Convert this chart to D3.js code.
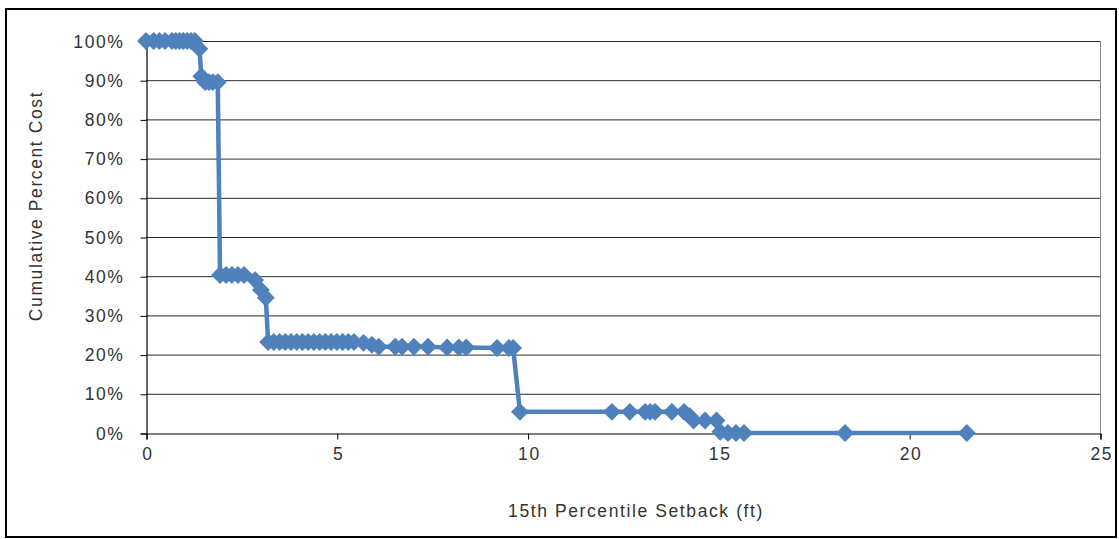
<!DOCTYPE html>
<html><head><meta charset="utf-8">
<script src="https://cdn.jsdelivr.net/npm/d3@7"></script>
<style>
html,body{margin:0;padding:0;background:#fff;}
text{font-family:"Liberation Sans",Arial,sans-serif;}
</style></head>
<body>
<svg id="chart" width="1119" height="539"></svg>
<script>
const setbackFt = [0, 0.2, 0.35, 0.5, 0.68, 0.78, 0.88, 0.98, 1.08, 1.18, 1.28, 1.4, 1.45, 1.55, 1.65, 1.75, 1.88,
  1.94, 2.1, 2.25, 2.41, 2.57, 2.86, 3.01, 3.14,
  3.2, 3.35, 3.5, 3.65, 3.8, 3.95, 4.1, 4.25, 4.4, 4.55, 4.7, 4.85, 5.0, 5.15, 5.3, 5.45, 5.7,
  5.92, 6.1, 6.53, 6.71, 7.02, 7.39, 7.89, 8.2, 8.39, 9.2, 9.51, 9.62,
  9.8, 12.21, 12.68, 13.08, 13.21, 13.34, 13.78, 14.1, 14.25, 14.35, 14.65, 14.95,
  15.05, 15.25, 15.46, 15.67, 18.32, 21.51];
const cumPercentCost = [100, 100, 100, 100, 100, 100, 100, 100, 100, 100, 100, 98, 91, 89.5, 89.5, 89.5, 89.5,
  40.3, 40.3, 40.3, 40.3, 40.3, 39, 36.5, 34.5,
  23.2, 23.2, 23.2, 23.2, 23.2, 23.2, 23.2, 23.2, 23.2, 23.2, 23.2, 23.2, 23.2, 23.2, 23.2, 23.2, 23,
  22.5, 22, 22, 22, 22, 22, 21.8, 21.8, 21.8, 21.7, 21.7, 21.7,
  5.4, 5.4, 5.4, 5.4, 5.4, 5.4, 5.4, 5.4, 4.3, 3.2, 3.2, 3.2,
  0.3, 0, 0, 0, 0, 0];
const xTicks = [0, 5, 10, 15, 20, 25];
const yTicks = [0, 10, 20, 30, 40, 50, 60, 70, 80, 90, 100];
const xTitle = "15th Percentile Setback (ft)";
const yTitle = "Cumulative Percent Cost";

const svg = d3.select("#chart");
const L = 146, R = 1100, T = 41, B = 433;
const x = d3.scaleLinear().domain([0, 25]).range([L, R]);
const y = d3.scaleLinear().domain([0, 100]).range([B, T]);
const textColor = "#333";
const fontSize = "17.5px";
const ls = "1.6px";

// outer frame
svg.append("rect").attr("x", 6).attr("y", 9).attr("width", 1110).attr("height", 528)
  .attr("fill", "none").attr("stroke", "#000").attr("stroke-width", 2);

// gridlines
svg.append("g").selectAll("line").data(yTicks.filter(d => d > 0)).join("line")
  .attr("x1", L).attr("x2", R).attr("y1", d => y(d) + 0.5).attr("y2", d => y(d) + 0.5)
  .attr("stroke", "#2a2a2a").attr("stroke-width", 1);
// plot right border
svg.append("line").attr("x1", R + 0.5).attr("x2", R + 0.5).attr("y1", T).attr("y2", B)
  .attr("stroke", "#888").attr("stroke-width", 1);

// y axis
const yAxis = svg.append("g").attr("transform", `translate(${L + 0.5},0.5)`)
  .call(d3.axisLeft(y).tickValues(yTicks).tickFormat(d => d + "%").tickSize(6).tickPadding(16));
// x axis
const xAxis = svg.append("g").attr("transform", `translate(0.5,${B + 0.5})`)
  .call(d3.axisBottom(x).tickValues(xTicks).tickSize(6).tickPadding(8));
[yAxis, xAxis].forEach(g => {
  g.select(".domain").attr("stroke", "#000").attr("stroke-width", 1.2);
  g.selectAll(".tick line").attr("stroke", "#000");
  g.selectAll("text").attr("font-size", fontSize).attr("fill", textColor)
    .attr("font-family", "Liberation Sans, Arial, sans-serif").attr("letter-spacing", ls);
});
xAxis.selectAll("text").attr("dx", "0.8px");

// series line
const pts = setbackFt.map((v, i) => [v, cumPercentCost[i]]);
svg.append("path").datum(pts)
  .attr("fill", "none").attr("stroke", "#4F81BD").attr("stroke-width", 4.5).attr("stroke-linejoin", "round")
  .attr("d", d3.line().x(d => x(d[0])).y(d => y(d[1])));

// diamond markers
svg.append("g").selectAll("path").data(pts).join("path")
  .attr("transform", d => `translate(${x(d[0])},${y(d[1])}) rotate(45)`)
  .attr("d", d3.symbol().type(d3.symbolSquare).size(160))
  .attr("fill", "#4F81BD");

// titles
svg.append("text").attr("x", 636).attr("y", 517).attr("text-anchor", "middle")
  .attr("font-size", fontSize).attr("fill", textColor).attr("letter-spacing", ls).text(xTitle);
svg.append("text").attr("transform", "translate(42,206) rotate(-90)").attr("text-anchor", "middle")
  .attr("font-size", fontSize).attr("fill", textColor).attr("letter-spacing", ls).text(yTitle);
</script>
</body></html>
